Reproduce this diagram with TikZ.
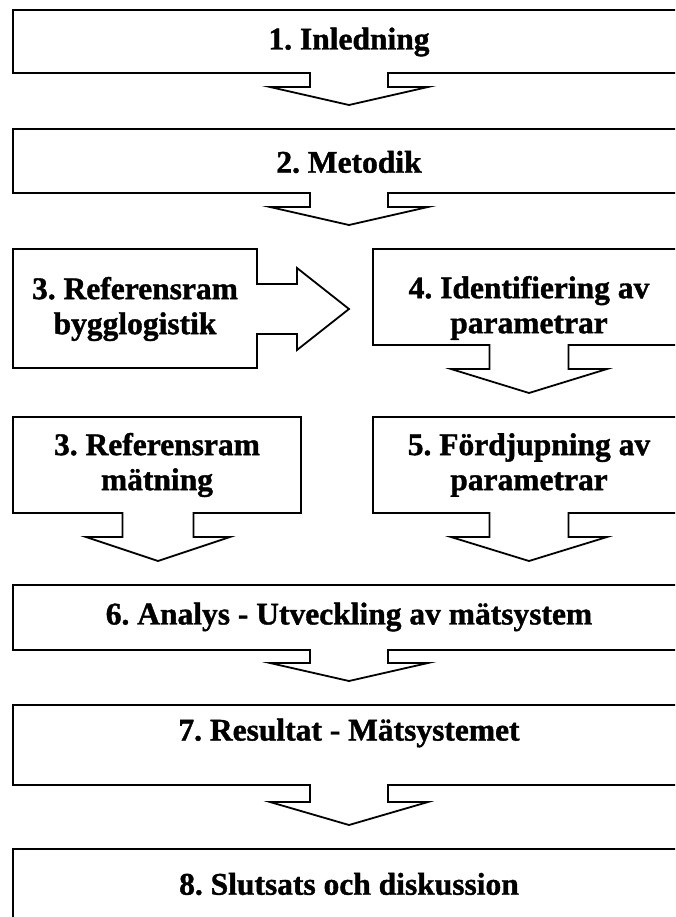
\documentclass[tikz,border=0pt]{standalone}
\usepackage{fontspec}
\setmainfont{Liberation Serif}[BoldFeatures={FakeBold=1.2}]
\frenchspacing

% Box outline with a block arrow hanging from its lower edge:
% #1 left, #2 top, #3 right, #4 bottom, #5 arrow axis,
% #6 stem half width, #7 head half width, #8 end of stem, #9 tip
\newcommand\downbox[9]{%
  \draw[outline] (#1,#2) -- (#3,#2) -- (#3,#4) -- ({#5+#6},#4) -- ({#5+#6},#8)
    -- ({#5+#7},#8) -- (#5,#9) -- ({#5-#7},#8) -- ({#5-#6},#8) -- ({#5-#6},#4)
    -- (#1,#4) -- cycle;}

\begin{document}
\begin{tikzpicture}[x=1pt,y=-1pt,
  outline/.style={draw=black,line width=1.8pt,line join=miter,fill=white},
  label/.style={font=\bfseries\fontsize{31.5}{35}\selectfont,align=center,inner sep=0pt}]
\useasboundingbox (0,0) rectangle (675,917);
\clip (0,0) rectangle (675,917);

% full-width steps
\downbox{13}{10}{685}{73}{349}{39}{79}{87}{105}
\downbox{13}{129}{685}{193}{349}{39}{79}{207}{225}

% left box with arrow pointing right
\draw[outline] (13,249) -- (257,249) -- (257,284) -- (297,284) -- (297,268)
  -- (349,309) -- (297,350) -- (297,334) -- (257,334) -- (257,368) -- (13,368) -- cycle;

% right column
\downbox{373}{249}{685}{345}{529}{39.5}{78}{369}{393}
\downbox{373}{417}{685}{513}{529}{39.5}{78}{537}{561}

% left column
\downbox{13}{417}{301}{513}{158}{35.5}{72}{537}{561}

% lower full-width steps
\downbox{13}{585}{685}{650}{349}{39}{79}{663}{681}
\downbox{13}{705}{685}{785}{349}{39}{79}{802}{825}
\draw[outline] (13,940) -- (13,849) -- (685,849) -- (685,940);

% texts
\node[label] (s1) at (349,42) {1. Inledning};
\node[label] (s2) at (349,162) {2. Metodik};
\node[label] (s3a) at (135,309) {3. Referensram\\bygglogistik};
\node[label] (s4) at (529,308) {4. Identifiering av\\parametrar};
\node[label] (s3b) at (157,465) {3. Referensram\\mätning};
\node[label] (s5) at (529,465) {5. Fördjupning av\\parametrar};
\node[label] (s6) at (349,617) {6. Analys - Utveckling av mätsystem};
\node[label] (s7) at (349,733) {7. Resultat - Mätsystemet};
\node[label] (s8) at (349,884) {8. Slutsats och diskussion};
\end{tikzpicture}
\end{document}
